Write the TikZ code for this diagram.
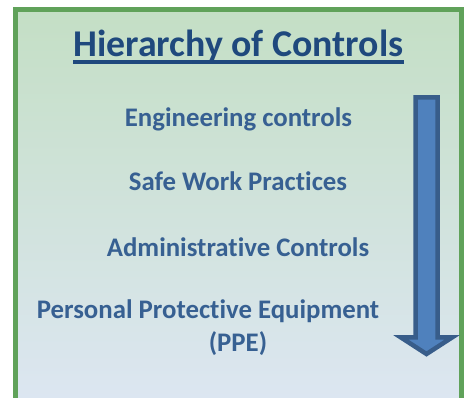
\documentclass[tikz,border=0pt]{standalone}
\usepackage{fontspec}
\setmainfont[Ligatures=NoCommon]{Carlito}
\definecolor{frame}{RGB}{96,162,90}
\definecolor{topfill}{RGB}{196,223,197}
\definecolor{botfill}{RGB}{220,230,241}
\definecolor{titleblue}{RGB}{31,73,125}
\definecolor{itemblue}{RGB}{55,96,146}
\definecolor{arrowfill}{RGB}{79,129,189}
\definecolor{arrowline}{RGB}{56,93,138}
\begin{document}
\begin{tikzpicture}[x=1pt,y=-1pt,
  item/.style={font=\fontsize{26.8}{30}\selectfont\bfseries, text=itemblue, inner sep=0pt, anchor=base},
  titlestyle/.style={font=\fontsize{37.8}{42}\selectfont\bfseries, text=titleblue, inner sep=0pt, anchor=base}]
\useasboundingbox (0,0) rectangle (464,398);
\shade[top color=topfill, bottom color=botfill, middle color={topfill!50!botfill}] (15.5,10) rectangle (461.5,398);
\draw[frame, line width=5pt] (15.5,410) -- (15.5,10) -- (461.5,10) -- (461.5,410);
\node[titlestyle] (title) at (238.5,57) {Hierarchy of Controls};
\draw[titleblue, line width=3.5pt] ([yshift=-5pt]title.base west) -- ([yshift=-5pt]title.base east);
\node[item] (eng) at (238.5,127) {Engineering controls};
\node[item] (safe) at (238,191) {Safe Work Practices};
\node[item] (admin) at (238,257) {Administrative Controls};
\node[item] (ppe1) at (208,319) {Personal Protective Equipment};
\node[item] (ppe2) at (238,352) {(PPE)};
\draw[arrowline, fill=arrowfill, line width=4.5pt, line join=miter]
  (415.5,97.5) -- (437.5,97.5) -- (437.5,337.5) -- (452,337.5) -- (426.5,354) -- (401,337.5) -- (415.5,337.5) -- cycle;
\end{tikzpicture}
\end{document}
